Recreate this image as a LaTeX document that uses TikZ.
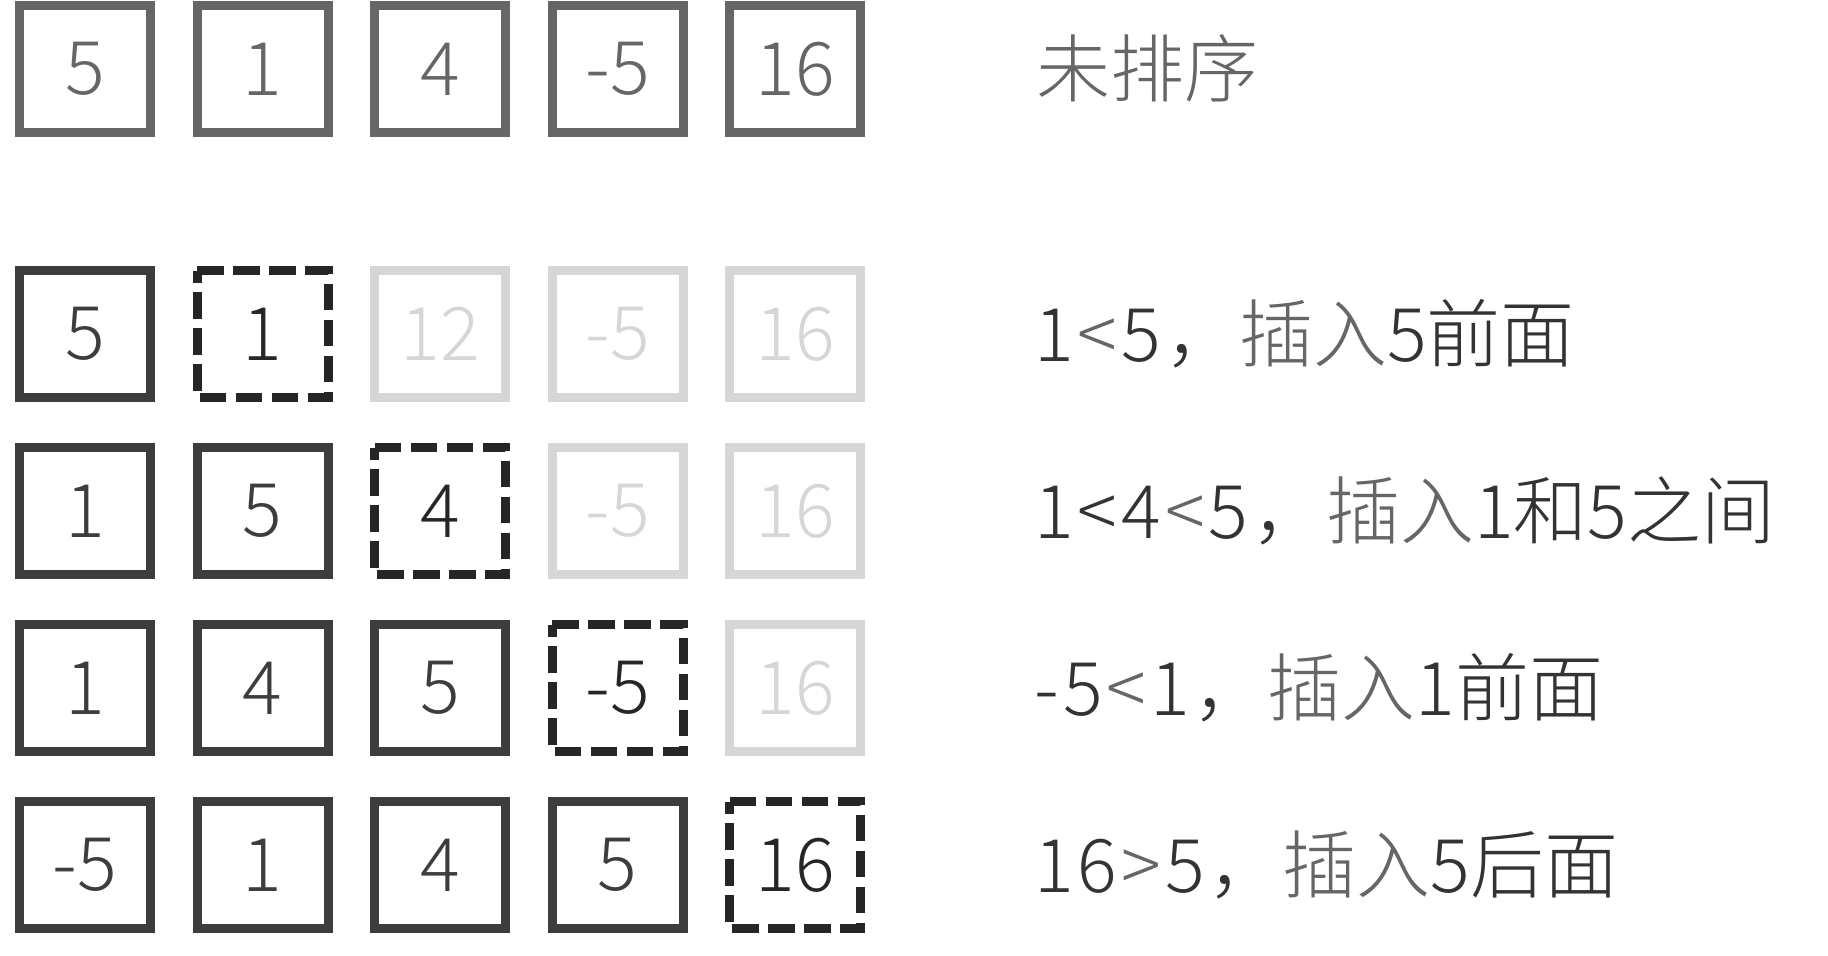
\documentclass[tikz,border=0pt]{standalone}
\usepackage{fontspec}
\IfFontExistsTF{Noto Sans CJK SC Light}{%
  \setmainfont{Noto Sans CJK SC Light}}{%
  \setmainfont{Noto Sans CJK SC}}
\definecolor{graymid}{HTML}{666666}
\definecolor{dark}{HTML}{3D3D3D}
\definecolor{darker}{HTML}{262626}
\definecolor{light}{HTML}{D6D6D6}
\definecolor{txtdark}{HTML}{333333}
\newcommand{\kk}{\kern2pt}
\newcommand{\gl}[1]{\textcolor{graymid}{#1}}
\begin{document}
\begin{tikzpicture}[x=0.5pt,y=-0.5pt,
 cell/.style={rectangle, minimum width=65.5pt, minimum height=63.5pt, inner sep=0pt, outer sep=0pt, line width=4.5pt, font=\fontsize{37}{44}\selectfont},
 orig/.style={cell, draw=graymid, text=graymid},
 done/.style={cell, draw=dark, text=dark},
 rest/.style={cell, draw=light, text=light},
 cur/.style={cell, text=darker},
 curline/.style={draw=darker, line width=4.5pt, dash pattern=on 13.25pt off 4.75pt},
 lbl/.style={anchor=base west, inner sep=0pt, font=\fontsize{37}{44}\selectfont, text=txtdark}]
\useasboundingbox (0,0) rectangle (1828,955);
% row 1
\node[orig] (a1) at (85,69) {5};
\node[orig] (a2) at (262.5,69) {1};
\node[orig] (a3) at (440,69) {4};
\node[orig] (a4) at (617.5,69) {-5};
\node[orig] (a5) at (795,69) {16};
% row 2
\node[done] (b1) at (85,334) {5};
\node[cur]  (b2) at (262.5,334) {1};
\node[rest] (b3) at (440,334) {12};
\node[rest] (b4) at (617.5,334) {-5};
\node[rest] (b5) at (795,334) {16};
% row 3
\node[done] (c1) at (85,511) {1};
\node[done] (c2) at (262.5,511) {5};
\node[cur]  (c3) at (440,511) {4};
\node[rest] (c4) at (617.5,511) {-5};
\node[rest] (c5) at (795,511) {16};
% row 4
\node[done] (d1) at (85,688) {1};
\node[done] (d2) at (262.5,688) {4};
\node[done] (d3) at (440,688) {5};
\node[cur]  (d4) at (617.5,688) {-5};
\node[rest] (d5) at (795,688) {16};
% row 5
\node[done] (e1) at (85,865) {-5};
\node[done] (e2) at (262.5,865) {1};
\node[done] (e3) at (440,865) {4};
\node[done] (e4) at (617.5,865) {5};
\node[cur]  (e5) at (795,865) {16};
% dashed borders
\foreach \n in {b2,c3,d4,e5}{
  \draw[curline] (\n.north west) -- (\n.north east) -- (\n.south east) -- (\n.south west) -- cycle;
}
% labels
\node[lbl, text=graymid] (t1) at (1036,96) {未排序};
\node[lbl] (t2) at (1034,361) {1\kk\gl{<}\kk 5\kk，\gl{插入}5前面};
\node[lbl] (t3) at (1034,538) {1\kk<\kk 4\kk\gl{<}\kk 5\kk，\gl{插入}1和5之间};
\node[lbl] (t4) at (1034,715) {-\kk 5\kk\gl{<}\kk 1\kk，\gl{插入}1前面};
\node[lbl] (t5) at (1034,892) {1\kk 6\kk\gl{>}\kk 5\kk，\gl{插入}5后面};
\end{tikzpicture}
\end{document}
